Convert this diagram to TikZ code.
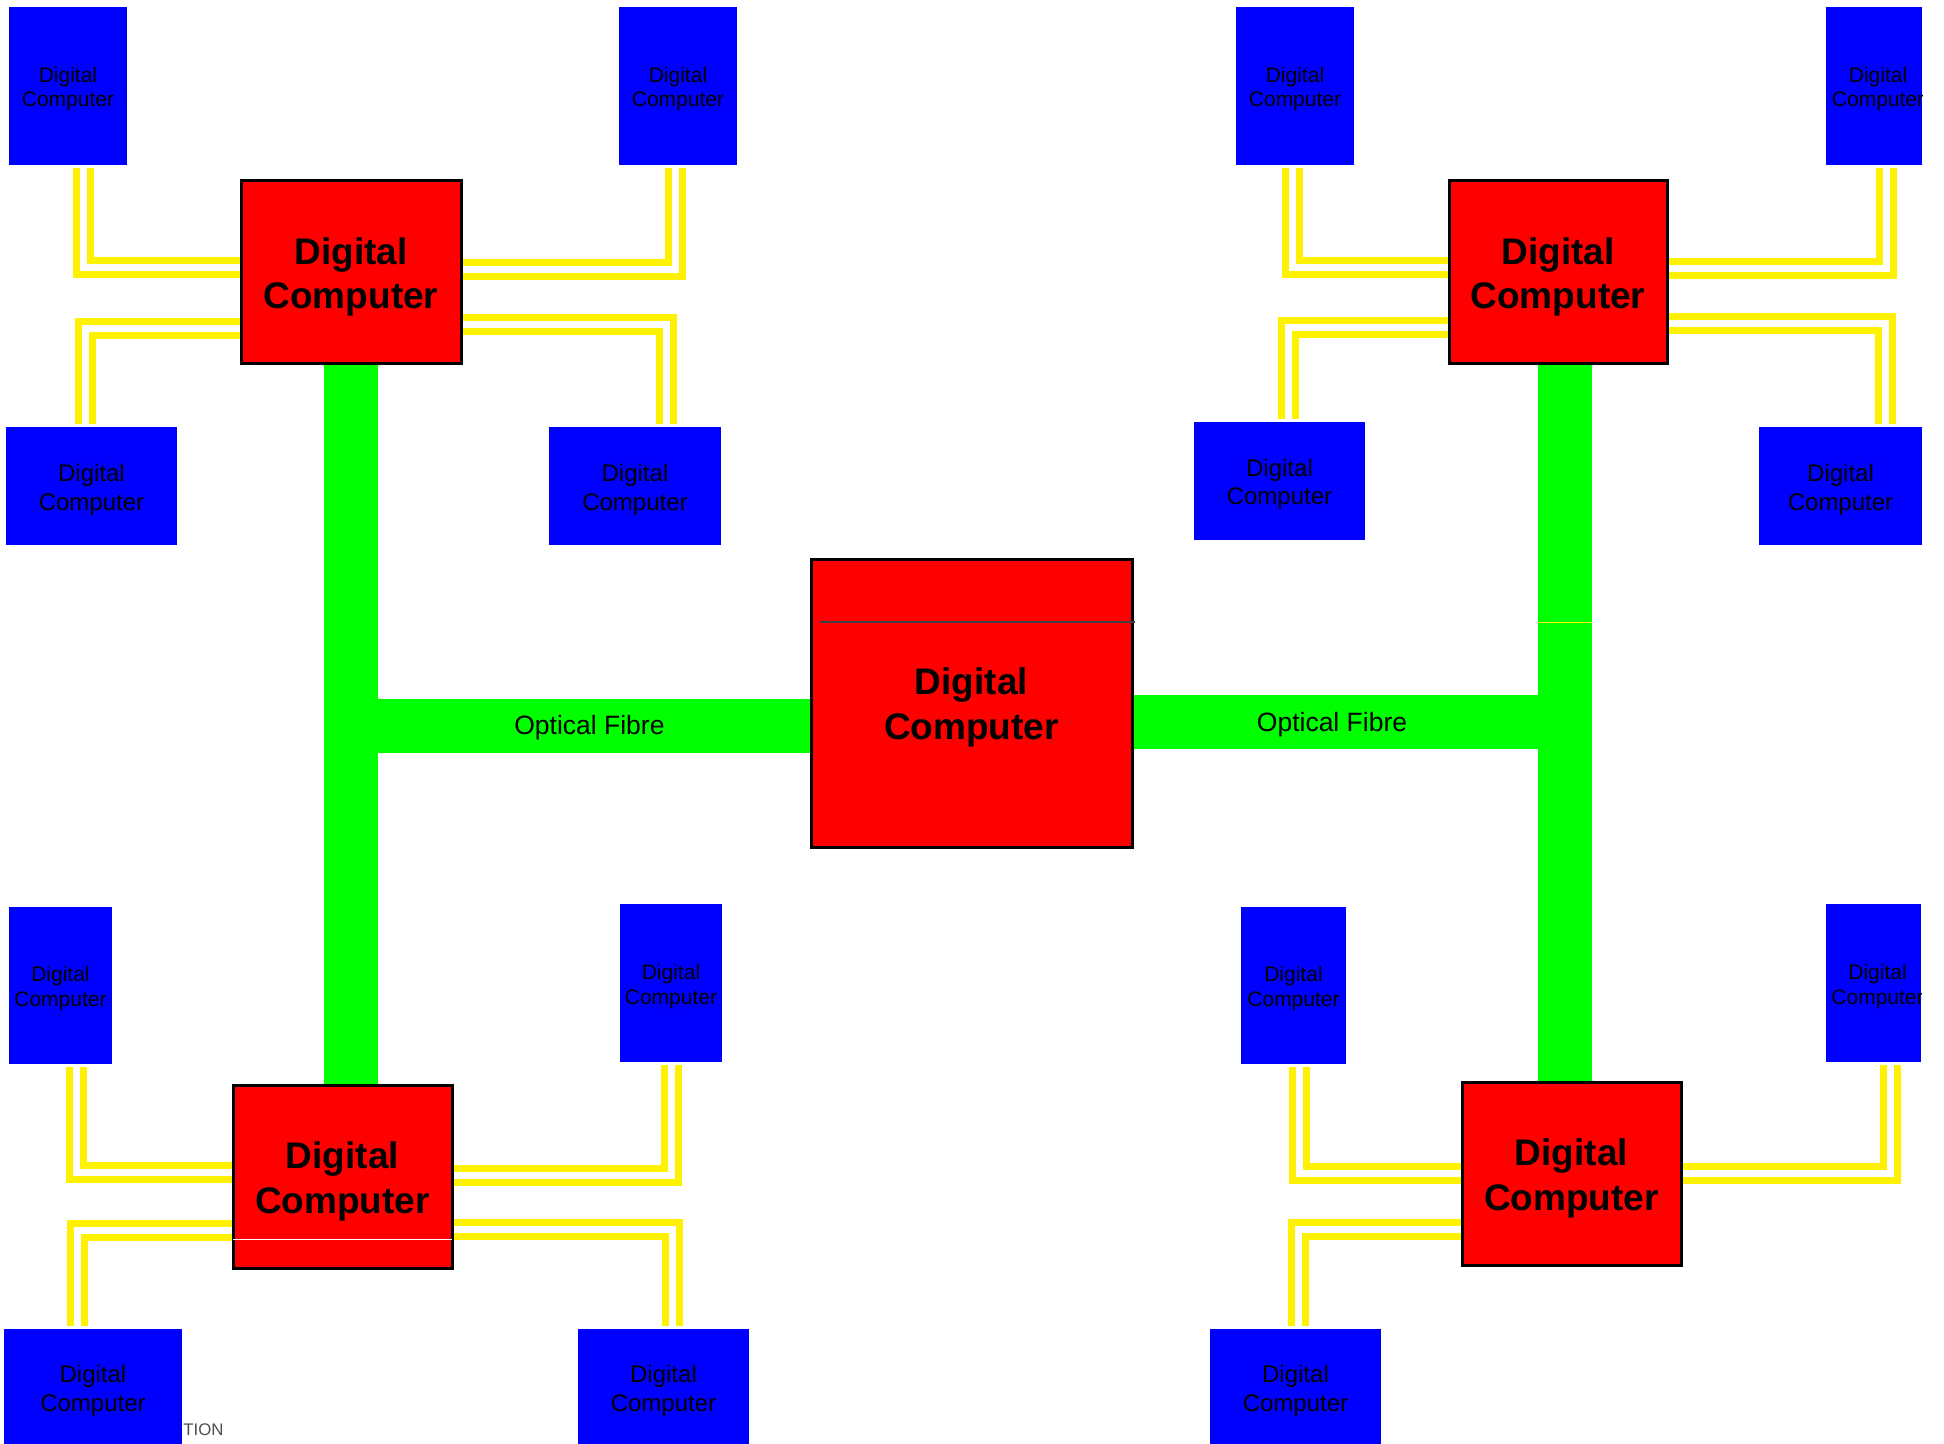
\documentclass[tikz,border=0pt]{standalone}
\usepackage{fontspec}
\setmainfont{Liberation Sans}
\usetikzlibrary{backgrounds}
\begin{document}
\begin{tikzpicture}[x=0.5pt,y=-0.5pt,
  sz/.style 2 args={minimum width=#1*0.5pt, minimum height=#2*0.5pt},
  pctext/.style={inner sep=0pt, align=center, text=black, font=\fontsize{10.5}{12.4}\selectfont, text height=21pt, text depth=0pt},
  pc/.style={pctext, fill=blue, draw=none},
  pcw/.style={pc, font=\fontsize{12}{14.3}\selectfont, text height=24pt},
  hub/.style={fill=red, draw=black, line width=1.5pt, inner sep=0pt, align=center, font=\bfseries\fontsize{18.5}{22.3}\selectfont, text height=36.5pt, text depth=0pt},
  link/.style={draw=yellow, line width=3.5pt, double=white, double distance=3.5pt, line join=miter},
  fibre/.style={draw=green, line width=27pt},
  lbl/.style={font=\fontsize{13.25}{15}\selectfont, text=black, inner sep=0pt, yshift=-1.25pt}
]
\useasboundingbox (0,0) rectangle (1944,1444);
% top-left cluster
\node[pc, sz={118}{158}] (tl1) at (68,86) {Digital\\Computer};
\node[pc, sz={118}{158}] (tl2) at (678,86) {Digital\\Computer};
\node[pcw, sz={171}{118}] (tl3) at (91.5,486) {Digital\\Computer};
\node[pcw, sz={172}{118}] (tl4) at (635,486) {Digital\\Computer};
\node[hub, sz={220}{183}] (rtl) at (351,272.5) {Digital\\Computer};
% top-right cluster
\node[pc, sz={118}{158}] (tr1) at (1295,86) {Digital\\Computer};
\node[pc, sz={96}{158}] (tr2) at (1874,86) {};
\begin{scope}
  \clip (tr2.south west) rectangle (tr2.north east);
  \node[pctext, xshift=2pt] (tr2t) at (tr2.center) {Digital\\Computer};
\end{scope}
\node[pcw, sz={171}{118}] (tr3) at (1279.5,481) {Digital\\Computer};
\node[pcw, sz={163}{118}] (tr4) at (1840.5,486) {Digital\\Computer};
\node[hub, sz={218}{183}] (rtr) at (1558,272.5) {Digital\\Computer};
% centre
\node[hub, sz={321}{288}, text height=36pt] (rc) at (971.5,703) {Digital\\Computer};
% bottom-left cluster
\node[pc, sz={103}{157}] (bl1) at (60.5,985.5) {Digital\\Computer};
\node[pc, sz={102}{158}] (bl2) at (671,983) {Digital\\Computer};
\node[pcw, sz={178}{117}] (bl3) at (93,1387.5) {Digital\\Computer};
\node[pcw, sz={171}{117}] (bl4) at (663.5,1387.5) {Digital\\Computer};
\node[hub, sz={219}{183}] (rbl) at (342.5,1176.5) {Digital\\Computer};
% bottom-right cluster
\node[pc, sz={105}{157}] (br1) at (1293.5,985.5) {Digital\\Computer};
\node[pc, sz={95}{158}] (br2) at (1873.5,983) {};
\begin{scope}
  \clip (br2.south west) rectangle (br2.north east);
  \node[pctext, xshift=2pt] (br2t) at (br2.center) {Digital\\Computer};
\end{scope}
\node[pcw, sz={171}{117}] (br3) at (1295.5,1387.5) {Digital\\Computer};
\node[hub, sz={219}{183}] (rbr) at (1571.5,1173.5) {Digital\\Computer};

\node[font=\fontsize{8.4}{10}\selectfont, text=black!70, anchor=west, inner sep=0pt] (tion) at (183,1429.5) {TION};

% corner points of links
\coordinate (c1) at (83,268);
\coordinate (c2) at (675.5,269.5);
\coordinate (c3) at (85.5,329);
\coordinate (c4) at (666,325);
\coordinate (c5) at (1292.5,268);
\coordinate (c6) at (1886,269);
\coordinate (c7) at (1288,328);
\coordinate (c8) at (1885.5,323.5);
\coordinate (c9) at (76.5,1172.5);
\coordinate (c10) at (671.5,1175);
\coordinate (c11) at (77,1230.5);
\coordinate (c12) at (672,1229);
\coordinate (c13) at (1299.5,1173);
\coordinate (c14) at (1890.5,1173);
\coordinate (c15) at (1298,1229);
\coordinate (jl) at (351,725.5);
\coordinate (jr) at (1565,722);
\coordinate (art) at (0,622);
\coordinate (art2) at (0,1239);

\begin{scope}[on background layer]
  \draw[link, shorten <=1.5pt] (tl1.south -| c1) -- (c1) -- (c1 -| rtl.west);
  \draw[link, shorten <=1.5pt] (tl2.south -| c2) -- (c2) -- (c2 -| rtl.east);
  \draw[link, shorten >=1.5pt] (c3 -| rtl.west) -- (c3) -- (tl3.north -| c3);
  \draw[link, shorten >=1.5pt] (c4 -| rtl.east) -- (c4) -- (tl4.north -| c4);
  \draw[link, shorten <=1.5pt] (tr1.south -| c5) -- (c5) -- (c5 -| rtr.west);
  \draw[link, shorten <=1.5pt] (tr2.south -| c6) -- (c6) -- (c6 -| rtr.east);
  \draw[link, shorten >=1.5pt] (c7 -| rtr.west) -- (c7) -- (tr3.north -| c7);
  \draw[link, shorten >=1.5pt] (c8 -| rtr.east) -- (c8) -- (tr4.north -| c8);
  \draw[link, shorten <=1.5pt] (bl1.south -| c9) -- (c9) -- (c9 -| rbl.west);
  \draw[link, shorten <=1.5pt] (bl2.south -| c10) -- (c10) -- (c10 -| rbl.east);
  \draw[link, shorten >=1.5pt] (c11 -| rbl.west) -- (c11) -- (bl3.north -| c11);
  \draw[link, shorten >=1.5pt] (c12 -| rbl.east) -- (c12) -- (bl4.north -| c12);
  \draw[link, shorten <=1.5pt] (br1.south -| c13) -- (c13) -- (c13 -| rbr.west);
  \draw[link, shorten <=1.5pt] (br2.south -| c14) -- (c14) -- (c14 -| rbr.east);
  \draw[link, shorten >=1.5pt] (c15 -| rbr.west) -- (c15) -- (br3.north -| c15);
  % optical fibre
  \draw[fibre] (rtl.south -| jl) -- (rbl.north -| jl);
  \draw[fibre] (jl) -- (jl -| rc.west) node[lbl, pos=0.52] {Optical Fibre};
  \draw[fibre] (rtr.south -| jr) -- (rbr.north -| jr);
  \draw[fibre] (rc.east |- jr) -- (jr) node[lbl, pos=0.46] {Optical Fibre};
\end{scope}

% thin stray lines
\draw[black!75, line width=0.6pt] ([xshift=5pt]rc.west |- art) -- ([xshift=0.5pt]rc.east |- art);
\draw[yellow, line width=0.5pt] ([xshift=-13.5pt]jr |- art) -- ([xshift=13.5pt]jr |- art);
\draw[white, line width=0.5pt, shorten <=0.75pt, shorten >=0.75pt] (rbl.west |- art2) -- (rbl.east |- art2);
\end{tikzpicture}
\end{document}
